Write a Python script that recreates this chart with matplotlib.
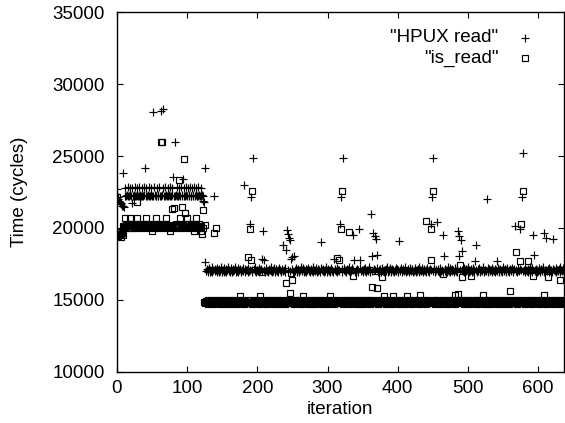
import numpy as np
import matplotlib
matplotlib.use("Agg")
import matplotlib.pyplot as plt

# "HPUX read" time per iteration (cycles), iterations 0..639
hpux_read = [
    22700, 22150, 22000, 21900, 21800, 21700, 21650, 21550, 21500, 23800, 21450, 22250, 22800, 22250, 22300, 22850, 22200, 22250, 22800, 22300,
    22250, 21750, 22800, 22200, 22300, 22850, 22250, 22200, 22800, 22300, 22250, 22850, 22200, 22300, 22250, 22800, 22200, 22250, 22850, 22300,
    24150, 22250, 22800, 22200, 22300, 22250, 22850, 22200, 22300, 22800, 22250, 22200, 28050, 22850, 22300, 22250, 22200, 22800, 22250, 22300,
    22850, 22200, 22250, 28150, 22300, 28300, 22800, 22250, 22200, 22850, 22300, 22250, 22800, 22200, 22300, 22250, 22850, 22200, 22300, 22800,
    23550, 22250, 22200, 25950, 22300, 22850, 22250, 22200, 22800, 22300, 22250, 22850, 22200, 22300, 23420, 22800, 22250, 22200, 22850, 22300,
    22250, 22800, 22200, 22300, 22850, 22250, 22200, 22800, 22300, 22250, 22850, 22200, 22300, 22800, 22250, 22200, 22850, 22300, 22250, 22800,
    22200, 22300, 22250, 21850, 21800, 24200, 17650, 17000, 17150, 16950, 17050, 17200, 16900, 17100, 17000, 17250, 16950, 17050, 22200, 17150,
    17000, 17100, 16950, 17200, 17050, 16900, 17150, 17000, 17250, 16950, 17100, 17050, 17200, 16900, 17000, 17150, 16950, 17100, 17300, 17000,
    17050, 16950, 17200, 17100, 16900, 17000, 17150, 17050, 17250, 16950, 17100, 17000, 17200, 16900, 17050, 17150, 17000, 16950, 17100, 17200,
    17000, 23020, 16950, 17150, 17050, 17100, 16900, 17200, 17000, 17050, 20280, 22160, 17100, 16950, 24890, 17150, 17000, 17250, 16900, 17050,
    17100, 17000, 17200, 16950, 17050, 17150, 17000, 17830, 19810, 17790, 17100, 16900, 17050, 17200, 17000, 16950, 17150, 17050, 17100, 17000,
    17250, 16950, 17100, 17000, 17200, 16900, 17050, 17150, 17000, 16950, 17100, 17200, 17050, 17000, 16900, 17150, 18830, 17000, 17100, 16950,
    17200, 18480, 19880, 17050, 19580, 19300, 19180, 17000, 17800, 17150, 17970, 16950, 18020, 17100, 17000, 17200, 16900, 17050, 17150, 17000,
    16950, 17100, 17250, 17000, 17050, 17200, 16900, 17100, 17000, 17150, 16950, 17050, 17200, 17000, 17100, 16900, 17150, 17050, 17000, 17250,
    16950, 17100, 17000, 17200, 17050, 16900, 17150, 17000, 17100, 16950, 19020, 17200, 17050, 17000, 17150, 16900, 17100, 17000, 17250, 16950,
    17050, 17150, 17000, 17100, 16900, 17200, 17050, 17000, 16950, 17800, 17150, 17100, 17000, 17200, 16950, 17050, 17100, 17000, 20300, 22160,
    17150, 16900, 24890, 17050, 17200, 17000, 17100, 16950, 17150, 17050, 17000, 17250, 16900, 17100, 17000, 17200, 19530, 17050, 17790, 16950,
    17100, 17000, 17150, 17050, 16900, 19900, 17200, 17790, 17000, 17100, 16950, 17050, 17150, 17000, 17200, 16900, 17100, 17050, 17000, 17250,
    16950, 17100, 20980, 17000, 18020, 19650, 17150, 19410, 17050, 19230, 18140, 17200, 16900, 17000, 17100, 17150, 16950, 17050, 17200, 17000,
    17100, 16900, 17050, 17150, 17000, 17250, 16950, 17100, 17000, 17200, 17050, 16900, 17150, 17000, 17100, 16950, 17050, 17200, 17000, 17150,
    16900, 17100, 19110, 17050, 17000, 17200, 16950, 17150, 17050, 17000, 17100, 17250, 16900, 17000, 17150, 17050, 16950, 17100, 17200, 17000,
    17050, 17150, 16900, 17000, 17100, 17200, 16950, 17050, 17000, 17150, 17250, 16900, 17100, 17000, 17050, 17200, 16950, 17100, 17150, 17000,
    17050, 16900, 17200, 17000, 17100, 16950, 17150, 20300, 17050, 22160, 24890, 17000, 17200, 16900, 17100, 17050, 20420, 17000, 17150, 16950,
    17100, 17200, 17000, 17050, 16900, 19510, 18070, 17150, 17000, 17100, 16950, 17250, 17050, 17000, 17200, 16900, 17100, 17150, 17000, 17050,
    16950, 17100, 17200, 17000, 17150, 16900, 19760, 18070, 19410, 17050, 19180, 17100, 18410, 17000, 17200, 16950, 17050, 17150, 17000, 17100,
    17250, 16900, 17050, 17000, 17150, 17100, 16950, 17200, 17000, 17050, 17670, 17100, 18830, 16900, 17150, 17000, 17200, 17050, 16950, 17100,
    17000, 17150, 17250, 16900, 17050, 17100, 17000, 21980, 17200, 16950, 17150, 17050, 17000, 17100, 16900, 17200, 17050, 17000, 17150, 16950,
    17100, 17720, 17000, 17200, 17050, 16900, 17150, 17000, 17100, 16950, 17250, 17050, 17000, 17150, 17100, 16900, 17200, 17000, 17050, 16950,
    17150, 17100, 17000, 17200, 16900, 17050, 17150, 20110, 17000, 17100, 16950, 17200, 17050, 17000, 17150, 19930, 17100, 22160, 25190, 17000,
    17050, 17200, 16950, 17100, 17000, 17150, 16900, 17050, 17250, 17000, 17100, 16950, 17200, 19530, 18140, 17050, 17000, 17150, 16900, 17100,
    17000, 17200, 17050, 16950, 17150, 17100, 17000, 17250, 16900, 19650, 17050, 17100, 19300, 17000, 17150, 16950, 17200, 17050, 17000, 17100,
    16900, 19230, 17150, 17050, 17000, 17200, 16950, 17100, 17050, 17000, 17150, 17250, 16900, 17100, 17000, 17050, 17200, 16950, 17100, 17000,
]

# "is_read" time per iteration (cycles), iterations 0..639
is_read = [
    22150, 19450, 19600, 19500, 19700, 19400, 19550, 19650, 19500, 20100, 20150, 20700, 20050, 20200, 20100, 20300, 20000, 20150, 20700, 20250,
    20100, 20000, 20200, 20150, 20050, 20300, 20100, 20000, 20700, 21790, 20200, 20050, 20150, 20100, 20250, 20000, 20150, 20100, 20050, 20200,
    20100, 20300, 20700, 20050, 20150, 20000, 20200, 20100, 20250, 20050, 19800, 20150, 20100, 20000, 20200, 20700, 20050, 20150, 20300, 20100,
    20000, 20200, 25950, 20100, 25950, 20050, 20150, 20250, 20000, 20100, 20700, 20200, 20050, 20150, 20100, 19800, 20000, 20200, 21330, 20100,
    20050, 21370, 20150, 20000, 20250, 20100, 20200, 20050, 23350, 20150, 20700, 20000, 20100, 21470, 20200, 24820, 20050, 21050, 20150, 20100,
    20700, 20000, 20250, 20100, 20050, 20200, 20150, 20000, 20300, 20100, 19800, 20050, 20700, 20200, 20100, 20000, 20150, 20250, 20050, 20100,
    19800, 19600, 20000, 21280, 14850, 20230, 14750, 14900, 14800, 14950, 14700, 14850, 14900, 14750, 14800, 14950, 14850, 14700, 19650, 14900,
    14800, 20000, 14850, 14750, 14950, 14800, 14900, 14700, 14850, 14800, 14950, 14750, 14900, 14850, 14800, 14700, 14950, 14850, 14750, 14900,
    14800, 14850, 14950, 14700, 14900, 14800, 14750, 14850, 14950, 14800, 14900, 14700, 14850, 14800, 14950, 15250, 14750, 14900, 14800, 14850,
    14950, 14700, 14800, 14900, 14850, 14750, 17950, 14800, 14950, 14850, 19930, 17790, 14700, 22560, 14900, 14800, 14850, 14950, 14750, 14800,
    14900, 14850, 14700, 14800, 15250, 14950, 14850, 16900, 14750, 14900, 14800, 14850, 14950, 14700, 14800, 14900, 14850, 14750, 14950, 14800,
    14850, 14900, 14700, 14800, 14950, 14850, 14750, 14900, 14800, 14850, 14950, 14700, 14800, 14900, 14850, 14750, 14950, 14800, 14850, 14900,
    14700, 16160, 14850, 14800, 14950, 14750, 14900, 15500, 16850, 14800, 16340, 14850, 14700, 14950, 14800, 14900, 14850, 14750, 14950, 14800,
    14850, 14900, 14700, 14800, 14950, 15250, 14850, 14750, 14900, 14800, 14850, 14950, 14700, 14800, 14900, 14850, 14750, 14950, 14800, 14850,
    14900, 14700, 14800, 14950, 14850, 14750, 14900, 14800, 14850, 14950, 14700, 14800, 14900, 14850, 14750, 14950, 14800, 14850, 14900, 14700,
    14800, 14950, 14850, 15250, 14750, 14900, 14800, 14850, 14950, 14700, 14800, 14900, 14850, 17900, 14750, 14950, 14800, 17790, 14850, 19930,
    14900, 22560, 14700, 14800, 14950, 14850, 14750, 14900, 14800, 14850, 19690, 14950, 14700, 14800, 14900, 14850, 14750, 16670, 14950, 14800,
    14850, 14900, 14700, 14800, 14950, 14850, 14750, 14900, 14800, 14850, 14950, 14700, 14800, 14900, 14850, 14750, 14950, 14800, 14850, 14900,
    14700, 14800, 14950, 15880, 14850, 14750, 14900, 16970, 14800, 14850, 15780, 14950, 14700, 14800, 14900, 14850, 14750, 16580, 14950, 14800,
    15250, 14850, 14900, 14700, 14800, 14950, 14850, 14750, 14900, 14800, 14850, 14950, 14700, 14800, 15250, 14900, 14850, 14750, 14950, 14800,
    14850, 14900, 14700, 14800, 14950, 14850, 14750, 14900, 14800, 14850, 14950, 14700, 14800, 15250, 14900, 14850, 14750, 14950, 14800, 14850,
    14900, 14700, 14800, 14950, 14850, 14750, 14900, 14800, 14850, 14950, 14700, 14800, 15350, 14900, 14850, 14750, 14950, 14800, 14850, 14900,
    14700, 20460, 14800, 14950, 14850, 14750, 14900, 17740, 19950, 14800, 22560, 14850, 14950, 14700, 14800, 14900, 14850, 14750, 14950, 14800,
    14850, 14900, 14700, 14800, 14950, 16800, 14850, 14750, 14900, 14800, 14850, 14950, 14700, 14800, 14900, 14850, 14750, 14950, 14800, 14850,
    14900, 14700, 15300, 14800, 14950, 14850, 15400, 14750, 14900, 17390, 14800, 14850, 16580, 14950, 14700, 14800, 14900, 14850, 14750, 14950,
    14800, 14850, 14900, 14700, 16670, 14800, 14950, 14850, 14750, 14900, 14800, 14850, 14950, 14700, 14800, 14900, 14850, 14750, 14950, 14800,
    14850, 15300, 14900, 14700, 14800, 14950, 14850, 14750, 14900, 14800, 14850, 14950, 14700, 14800, 14900, 14850, 14750, 14950, 14800, 14850,
    14900, 14700, 14800, 14950, 14850, 14750, 14900, 14800, 14850, 14950, 14700, 14800, 14900, 14850, 14750, 14950, 14800, 14850, 14900, 14700,
    15640, 14800, 14950, 14850, 14750, 14900, 14800, 14850, 18300, 14950, 14700, 14800, 14900, 14850, 14750, 17720, 20300, 14950, 22560, 14800,
    14850, 14900, 14700, 14800, 14950, 17720, 14850, 14750, 14900, 14800, 14850, 14950, 14700, 16620, 14800, 14900, 14850, 14750, 14950, 14800,
    14850, 14900, 14700, 14800, 14950, 14850, 14750, 14900, 15350, 14800, 14850, 14950, 14700, 14800, 16580, 14900, 14850, 14750, 14950, 14800,
    14850, 14900, 14700, 14800, 14950, 14850, 14750, 14900, 14800, 14850, 14950, 16340, 14700, 14800, 14900, 14850, 14750, 14950, 14800, 14850,
]

series_labels = ['"HPUX read"', '"is_read"']
x_ticks = [0, 100, 200, 300, 400, 500, 600]
y_ticks = [10000, 15000, 20000, 25000, 30000, 35000]
x_label = "iteration"
y_label = "Time (cycles)"

plt.rcParams['font.family'] = ['Liberation Sans', 'DejaVu Sans']

W, H = 565, 423
fig = plt.figure(figsize=(W / 100, H / 100), dpi=100)
L, R, T, B = 117, 564, 12.5, 371.5
ax = fig.add_axes([L / W, (H - B) / H, (R - L) / W, (B - T) / H])

plus_style = dict(marker='+', markersize=5.4, markeredgewidth=0.85, color='black')
square_style = dict(marker='s', markersize=4.6, markeredgewidth=0.85,
                    markerfacecolor='none', markeredgecolor='black')

it_h = np.arange(len(hpux_read))
it_s = np.arange(len(is_read))
ax.plot(it_h, hpux_read, linestyle='none', **plus_style)
ax.plot(it_s, is_read, linestyle='none', **square_style)

ax.set_xlim(0, 637)
ax.set_ylim(10000, 35000)
ax.set_xticks(x_ticks)
ax.set_yticks(y_ticks)
ax.set_xticklabels([str(v) for v in x_ticks])
ax.set_yticklabels([str(v) for v in y_ticks])
ax.tick_params(direction='in', length=4, width=0.8, top=True, right=True,
               labelsize=13.5, colors='black')
ax.tick_params(axis='y', pad=9)
ax.tick_params(axis='x', pad=6)
for s in ax.spines.values():
    s.set_linewidth(1.0)
    s.set_color('black')

ax.set_xlabel(x_label, fontsize=13.5, labelpad=3)
ax.set_ylabel(y_label, fontsize=13.5, labelpad=17)

# legend (gnuplot style: right-justified labels, key samples to the right)
leg_y = [0.929, 0.873]
for lab, yy, mk in zip(series_labels, leg_y, [plus_style, square_style]):
    ax.text(0.853, yy, lab, transform=ax.transAxes, ha='right', va='center',
            fontsize=13.5)
    ax.plot([0.913], [yy], transform=ax.transAxes, linestyle='none',
            clip_on=False, **mk)

fig.savefig("out.png", dpi=100)
